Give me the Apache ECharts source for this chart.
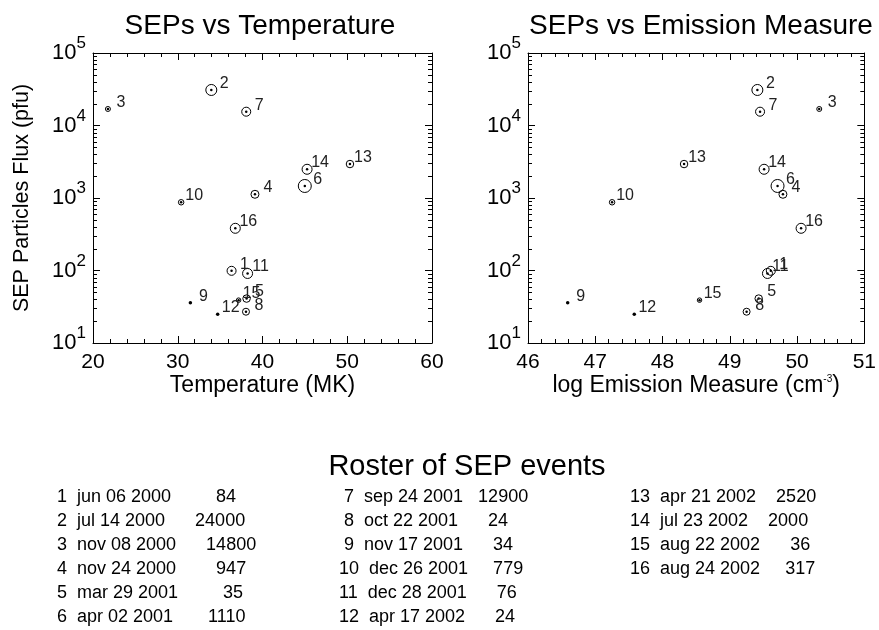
<!DOCTYPE html>
<html>
<head>
<meta charset="utf-8">
<script src="https://cdn.jsdelivr.net/npm/echarts@6/dist/echarts.min.js"></script>
<style>
  html, body { margin: 0; padding: 0; background: #fff; }
  #chart { width: 879px; height: 630px; }
</style>
</head>
<body>
<div id="chart"></div>
<script>
// roster of SEP events
const eventIds = [1, 2, 3, 4, 5, 6, 7, 8, 9, 10, 11, 12, 13, 14, 15, 16];
const eventDates = ['jun 06 2000', 'jul 14 2000', 'nov 08 2000', 'nov 24 2000', 'mar 29 2001', 'apr 02 2001',
  'sep 24 2001', 'oct 22 2001', 'nov 17 2001', 'dec 26 2001', 'dec 28 2001', 'apr 17 2002',
  'apr 21 2002', 'jul 23 2002', 'aug 22 2002', 'aug 24 2002'];
const eventFlux = [84, 24000, 14800, 947, 35, 1110, 12900, 24, 34, 779, 76, 24, 2520, 2000, 36, 317];

// (flux as plotted, pfu)
const plottedFlux = [99, 30900, 16900, 1125, 41, 1465, 15500, 27, 36, 873, 91, 25, 2940, 2490, 39, 382];
const temperatureMK = [36.35, 33.96, 21.76, 39.11, 38.12, 44.99, 38.08, 38.05, 31.49, 30.4, 38.24, 34.71, 50.32, 45.26, 37.18, 36.79];
const logEmission = [49.61, 49.41, 50.33, 49.79, 49.43, 49.71, 49.45, 49.25, 46.59, 47.25, 49.56, 47.58, 48.32, 49.51, 48.55, 50.06];
const circleSize = [9, 11, 5, 8, 7.5, 13, 9, 7, 0, 5.5, 10, 0, 7.5, 10, 4.5, 10];

const tempTicks = [20, 30, 40, 50, 60];
const emTicks = [46, 47, 48, 49, 50, 51];
const fluxRange = [10, 100000];

const FONT = '"Liberation Sans", Arial, Helvetica, sans-serif';

const chart = echarts.init(document.getElementById('chart'));

// minor ticks 2..9 x 10^n for the log axis
const logMinor = [];
for (let d = 1; d < 5; d++) {
  for (let k = 2; k <= 9; k++) logMinor.push(k * Math.pow(10, d));
}

const grids = [
  { left: 93, top: 53, width: 339, height: 290 },
  { left: 528, top: 53, width: 340, height: 290 }
];

function xAxes(gi, ticks, name) {
  const base = {
    gridIndex: gi, type: 'value', min: ticks[0], max: ticks[ticks.length - 1],
    interval: ticks[1] - ticks[0],
    axisLine: { show: true, onZero: false, lineStyle: { color: '#000', width: 1 } },
    axisTick: { show: true, inside: true, length: 7, lineStyle: { color: '#000' } },
    minorTick: { show: true, splitNumber: 5, length: 4, lineStyle: { color: '#000' } },
    splitLine: { show: false }
  };
  return [
    Object.assign({}, base, {
      position: 'bottom',
      axisLabel: { color: '#000', fontSize: 21, fontFamily: FONT, margin: 9 },
      name: name, nameLocation: 'middle', nameGap: 29,
      nameTextStyle: {
        color: '#000', fontSize: 23, fontFamily: FONT,
        rich: { s: { fontSize: 10, fontFamily: FONT, color: '#000', verticalAlign: 'top', lineHeight: 12 } }
      }
    }),
    Object.assign({}, base, { position: 'top', axisLabel: { show: false } })
  ];
}

function yAxes(gi, withName) {
  const base = {
    gridIndex: gi, type: 'log', logBase: 10, min: fluxRange[0], max: fluxRange[1],
    axisLine: { show: true, onZero: false, lineStyle: { color: '#000', width: 1 } },
    axisTick: { show: true, inside: true, length: 7, lineStyle: { color: '#000' } },
    splitLine: { show: false }
  };
  const left = Object.assign({}, base, {
    position: 'left',
    axisLabel: {
      margin: 7,
      formatter: v => '{b|10}{s|' + Math.round(Math.log10(v)) + '}',
      rich: {
        b: { fontSize: 22, fontFamily: FONT, color: '#000', lineHeight: 36, verticalAlign: 'middle' },
        s: { fontSize: 17, fontFamily: FONT, color: '#000', lineHeight: 17, verticalAlign: 'top' }
      }
    }
  });
  if (withName) {
    Object.assign(left, {
      name: 'SEP Particles Flux (pfu)', nameLocation: 'middle', nameGap: 60,
      nameTextStyle: { color: '#000', fontSize: 21.5, fontFamily: FONT }
    });
  }
  return [left, Object.assign({}, base, { position: 'right', axisLabel: { show: false } })];
}

function minorTickSeries(xi, yi, xMin, xMax) {
  return {
    type: 'custom', xAxisIndex: xi, yAxisIndex: yi, silent: true, clip: false,
    data: logMinor.map(v => [xMin, v]),
    renderItem: (params, api) => {
      const v = api.value(1);
      const l = api.coord([xMin, v]);
      const r = api.coord([xMax, v]);
      const y = Math.round(l[1]) + 0.5;
      return {
        type: 'group',
        children: [
          { type: 'line', shape: { x1: l[0], y1: y, x2: l[0] + 4, y2: y }, style: { stroke: '#000', lineWidth: 1 } },
          { type: 'line', shape: { x1: r[0], y1: y, x2: r[0] - 4, y2: y }, style: { stroke: '#000', lineWidth: 1 } }
        ]
      };
    }
  };
}

function pointSeries(xi, yi, xs) {
  const circles = [];
  const dots = [];
  eventIds.forEach((id, i) => {
    if (circleSize[i] > 0) circles.push([xs[i], plottedFlux[i], circleSize[i]]);
    dots.push([xs[i], plottedFlux[i], id, circleSize[i] > 0 ? 2.5 : 3.5]);
  });
  return [
    {
      type: 'scatter', xAxisIndex: xi, yAxisIndex: yi, silent: true,
      data: circles,
      symbol: 'circle',
      symbolSize: d => d[2],
      itemStyle: { color: 'rgba(0,0,0,0)', borderColor: '#000', borderWidth: 1, opacity: 1 }
    },
    {
      type: 'scatter', xAxisIndex: xi, yAxisIndex: yi, silent: true,
      data: dots,
      symbol: 'circle',
      symbolSize: d => d[3],
      itemStyle: { color: '#000', opacity: 1 },
      label: {
        show: true, position: 'inside', offset: [13, -6.5],
        formatter: p => String(p.data[2]),
        fontSize: 16, fontFamily: FONT, color: '#222'
      }
    }
  ];
}

// roster text, three columns of fixed-format strings
const rosterCols = [52, 339, 630];
const rosterPad = [11, 8, 8];
const rosterRowTop = 497;
const rosterRowStep = 24;
const roster = [];
eventIds.forEach((id, i) => {
  const col = Math.floor(i / 6);
  const row = i % 6;
  const line = String(id).padStart(2, ' ') + '  ' + eventDates[i] + String(eventFlux[i]).padStart(rosterPad[col], ' ');
  roster.push({
    type: 'text', x: rosterCols[col], y: rosterRowTop + row * rosterRowStep,
    style: { text: line, fontSize: 18, fontFamily: FONT, fill: '#000', textAlign: 'left', textVerticalAlign: 'middle' }
  });
});

const titles = [
  { type: 'text', x: 260, y: 26, style: { text: 'SEPs vs Temperature', fontSize: 28, fontFamily: FONT, fill: '#000', textAlign: 'center', textVerticalAlign: 'middle' } },
  { type: 'text', x: 701, y: 26, style: { text: 'SEPs vs Emission Measure', fontSize: 28, fontFamily: FONT, fill: '#000', textAlign: 'center', textVerticalAlign: 'middle' } },
  { type: 'text', x: 467, y: 467, style: { text: 'Roster of SEP events', fontSize: 29, fontFamily: FONT, fill: '#000', textAlign: 'center', textVerticalAlign: 'middle' } }
];

const xa0 = xAxes(0, tempTicks, 'Temperature (MK)');
const xa1 = xAxes(1, emTicks, 'log Emission Measure (cm{s|-3})');
const ya0 = yAxes(0, true);
const ya1 = yAxes(1, false);

chart.setOption({
  animation: false,
  backgroundColor: '#fff',
  grid: grids,
  xAxis: [xa0[0], xa0[1], xa1[0], xa1[1]],
  yAxis: [ya0[0], ya0[1], ya1[0], ya1[1]],
  graphic: titles.concat(roster),
  series: [
    minorTickSeries(0, 0, tempTicks[0], tempTicks[tempTicks.length - 1]),
    minorTickSeries(2, 2, emTicks[0], emTicks[emTicks.length - 1])
  ].concat(pointSeries(0, 0, temperatureMK), pointSeries(2, 2, logEmission))
});
</script>
</body>
</html>
